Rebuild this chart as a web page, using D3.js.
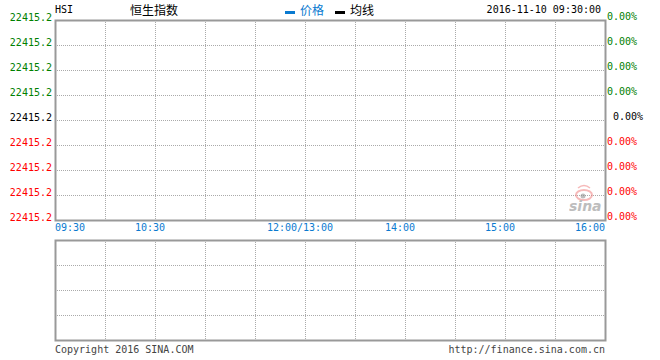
<!DOCTYPE html>
<html>
<head>
<meta charset="utf-8">
<script src="https://cdn.jsdelivr.net/npm/d3@7"></script>
<style>
  body { margin: 0; background: #fff; }
  text { font-family: "DejaVu Sans Mono", "Liberation Mono", monospace; font-size: 10px; }
  .cn { font-family: "Noto Sans CJK SC", sans-serif; font-size: 12px; }
</style>
</head>
<body>
<div id="chart"></div>
<script>
// data
var symbol = "HSI"
var title = "恒生指数"
var stamp = "2016-11-10 09:30:00"
var priceLabels = ["22415.2", "22415.2", "22415.2", "22415.2", "22415.2", "22415.2", "22415.2", "22415.2", "22415.2"]
var pctLabels = ["0.00%", "0.00%", "0.00%", "0.00%", "0.00%", "0.00%", "0.00%", "0.00%", "0.00%"]
// minutes of trading since 09:30 (lunch 12:00-13:00 removed)
var timeTickMinutes = [0, 30, 60, 90, 120, 150, 180, 210, 240, 270, 300, 330]
var timeLabelMinutes = [0, 60, 150, 210, 270, 330]
var timeLabels = ["09:30", "10:30", "12:00/13:00", "14:00", "15:00", "16:00"]
var volumeTicks = [0, 1, 2, 3, 4]
var priceSeries = []   // no trades yet at 09:30:00

let width = 660
    height = 360

var svg = d3.select("#chart")
  .append("svg")
    .attr("width", width)
    .attr("height", height)

var x = d3.scaleLinear().domain([0, 330]).range([55, 605])
var y = d3.scaleLinear().domain([0, priceLabels.length - 1]).range([20, 220])
var yv = d3.scaleLinear().domain([0, 4]).range([240, 340])

var gridColor = "#aaa"
var borderColor = "#999"

// label colours: above prev close green, at it black, below red
function rowColor(i) {
  var mid = (priceLabels.length - 1) / 2
  return i < mid ? "#008000" : (i == mid ? "#000" : "#f00")
}

// ---- price panel ----
var main = svg.append("g")

main.selectAll(".hgrid")
  .data(priceLabels.slice(1, -1))
  .enter().append("line")
    .attr("x1", 55).attr("x2", 605)
    .attr("y1", function(d, i) { return y(i + 1) + 0.5 })
    .attr("y2", function(d, i) { return y(i + 1) + 0.5 })
    .attr("stroke", gridColor)
    .attr("stroke-dasharray", "1,1")

main.selectAll(".vgrid")
  .data(timeTickMinutes.slice(1, -1))
  .enter().append("line")
    .attr("x1", function(d) { return x(d) + 0.5 })
    .attr("x2", function(d) { return x(d) + 0.5 })
    .attr("y1", 20).attr("y2", 220)
    .attr("stroke", gridColor)
    .attr("stroke-dasharray", "1,1")

main.append("rect")
  .attr("x", 55.5).attr("y", 20.5)
  .attr("width", 550).attr("height", 200)
  .attr("fill", "none")
  .attr("stroke", borderColor)
  .attr("stroke-width", 2)

main.selectAll(".plabel")
  .data(priceLabels)
  .enter().append("text")
    .attr("x", 52)
    .attr("y", function(d, i) { return y(i) + 1 })
    .attr("text-anchor", "end")
    .attr("fill", function(d, i) { return rowColor(i) })
    .text(function(d) { return d })

main.selectAll(".pctlabel")
  .data(pctLabels)
  .enter().append("text")
    .attr("x", function(d, i) { return i == (pctLabels.length - 1) / 2 ? 613 : 607 })
    .attr("y", function(d, i) { return y(i) })
    .attr("fill", function(d, i) { return rowColor(i) })
    .text(function(d) { return d })

// price line (empty at the open)
if (priceSeries.length) {
  main.append("path")
    .datum(priceSeries)
    .attr("fill", "none")
    .attr("stroke", "#0a7ad0")
    .attr("d", d3.line().x(function(d) { return x(d[0]) }).y(function(d) { return d[1] }))
}

// sina watermark
var wm = main.append("g").attr("opacity", 0.55)
wm.append("ellipse").attr("cx", 584).attr("cy", 195).attr("rx", 8).attr("ry", 5)
  .attr("fill", "none").attr("stroke", "#f08080").attr("stroke-width", 2)
wm.append("circle").attr("cx", 583).attr("cy", 196).attr("r", 2.5).attr("fill", "#888")
wm.append("path").attr("d", "M578,188 Q584,183 590,188").attr("fill", "none").attr("stroke", "#f08080").attr("stroke-width", 1.5)
wm.append("text")
  .attr("x", 569).attr("y", 211)
  .style("font-family", "DejaVu Sans")
  .style("font-size", "14px")
  .style("font-weight", "bold")
  .style("font-style", "italic")
  .attr("fill", "#888")
  .text("sina")

// header
svg.append("text").attr("x", 55).attr("y", 13).attr("fill", "#000").text(symbol)
svg.append("text").attr("class", "cn").attr("x", 130).attr("y", 15).attr("fill", "#000").text(title)
svg.append("rect").attr("x", 285).attr("y", 11).attr("width", 10).attr("height", 3).attr("fill", "#0a7ad0")
svg.append("text").attr("class", "cn").attr("x", 300).attr("y", 15).attr("fill", "#0a7ad0").text("价格")
svg.append("rect").attr("x", 335).attr("y", 11).attr("width", 10).attr("height", 3).attr("fill", "#000")
svg.append("text").attr("class", "cn").attr("x", 350).attr("y", 15).attr("fill", "#000").text("均线")
svg.append("text").attr("x", 601).attr("y", 13).attr("text-anchor", "end").attr("fill", "#000").text(stamp)

// time labels
svg.selectAll(".tlabel")
  .data(timeLabels)
  .enter().append("text")
    .attr("x", function(d, i) {
      if (i == 0) return x(timeLabelMinutes[i])
      if (i == timeLabels.length - 1) return x(timeLabelMinutes[i])
      return x(timeLabelMinutes[i]) - 5
    })
    .attr("y", 231)
    .attr("text-anchor", function(d, i) { return i == 0 ? "start" : (i == timeLabels.length - 1 ? "end" : "middle") })
    .attr("fill", "#0a7ad0")
    .text(function(d) { return d })

// ---- volume panel ----
var vol = svg.append("g")

vol.selectAll(".hgrid")
  .data(volumeTicks.slice(1, -1))
  .enter().append("line")
    .attr("x1", 55).attr("x2", 605)
    .attr("y1", function(d) { return yv(d) + 0.5 })
    .attr("y2", function(d) { return yv(d) + 0.5 })
    .attr("stroke", gridColor)
    .attr("stroke-dasharray", "1,1")

vol.selectAll(".vgrid")
  .data(timeTickMinutes.slice(1, -1))
  .enter().append("line")
    .attr("x1", function(d) { return x(d) + 0.5 })
    .attr("x2", function(d) { return x(d) + 0.5 })
    .attr("y1", 240).attr("y2", 340)
    .attr("stroke", gridColor)
    .attr("stroke-dasharray", "1,1")

vol.append("rect")
  .attr("x", 55.5).attr("y", 240.5)
  .attr("width", 550).attr("height", 100)
  .attr("fill", "none")
  .attr("stroke", borderColor)
  .attr("stroke-width", 2)

// footer
svg.append("text").attr("x", 55).attr("y", 353).attr("fill", "#444").text("Copyright 2016 SINA.COM")
svg.append("text").attr("x", 605).attr("y", 353).attr("text-anchor", "end").attr("fill", "#444").text("http://finance.sina.com.cn")
</script>
</body>
</html>
